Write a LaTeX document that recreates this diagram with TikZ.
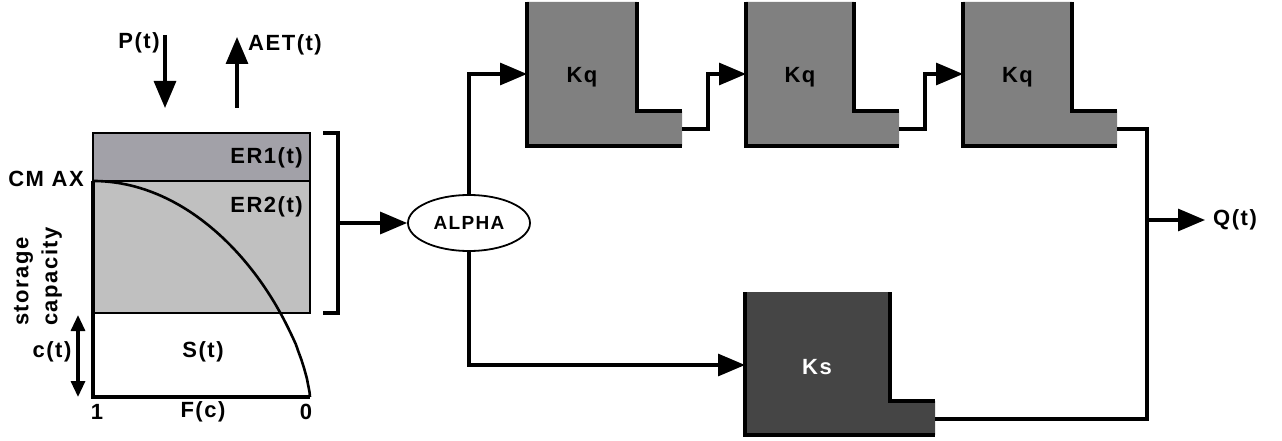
\documentclass[tikz,border=0pt]{standalone}
\usepackage{fontspec}
\setmainfont{Liberation Sans}[LetterSpace=7]
\usetikzlibrary{arrows.meta,shapes.geometric}

\definecolor{erone}{HTML}{A2A1A8}
\definecolor{ertwo}{HTML}{C0C0C0}
\definecolor{tankq}{HTML}{808080}
\definecolor{tanks}{HTML}{454545}

\begin{document}
\begin{tikzpicture}[x=1pt, y=-1pt,
  font=\bfseries\fontsize{22}{29}\selectfont,
  lbl/.style={inner sep=0pt},
  wall/.style={line width=4pt, line join=miter},
  line/.style={line width=3.2pt},
  flow/.style={line width=3.2pt, -{Triangle[length=27pt, width=22pt]}},
  small/.style={line width=3.2pt, {Triangle[length=16pt, width=14pt]}-{Triangle[length=16pt, width=14pt]}}
]
\useasboundingbox (0,0) rectangle (1282,441);

% soil store
\fill[erone] (93,133) rectangle (310,181);
\fill[ertwo] (93,181) rectangle (310,313);
\draw[line width=1.3pt] (93,133) rectangle (310,181) (93,181) rectangle (310,313);
\draw[line width=2.6pt] plot[domain=0:0.999, samples=80, variable=\u] ({93+217*\u},{397-216*(1-\u*\u)^(0.69)}) -- (310,397);
\draw[wall] (93,181) -- (93,397) -- (310,397);

\node[lbl, anchor=east] (cmax) at (84,179) {CM AX};
\node[lbl, anchor=east] (er1) at (303,158) {ER1(t)};
\node[lbl, anchor=east] (er2) at (303,207) {ER2(t)};
\node[lbl] (st) at (203,352) {S(t)};
\node[lbl] (ct) at (52,352) {c(t)};
\node[lbl] (one) at (97,412) {1};
\node[lbl] (fc) at (203,412) {F(c)};
\node[lbl] (zero) at (306,412) {0};
\node[lbl, anchor=west, rotate=90, align=left] (cap) at (38,326) {storage\\capacity};

% fluxes
\coordinate (ptop) at (165,35);
\coordinate (pbot) at (165,108);
\coordinate (aetbot) at (237,108);
\coordinate (aettop) at (237,37);
\node[lbl] (pt) at (139,43) {P(t)};
\node[lbl] (aet) at (285,45) {AET(t)};
\draw[flow] (ptop) -- (pbot);
\draw[flow] (aetbot) -- (aettop);
\coordinate (ctop) at (78,315);
\coordinate (cbot) at (78,397);
\draw[small] (ctop) -- (cbot);

% bracket and split
\draw[wall] (323,133) -- (338,133) -- (338,313) -- (323,313);
\coordinate (brk) at (338,223);
\node[draw, line width=1.8pt, ellipse, minimum width=122pt, minimum height=56pt, inner sep=0pt,
  font=\bfseries\fontsize{19}{22}\selectfont] (alpha) at (469,223) {ALPHA};
\draw[flow] (brk) -- (alpha);

% quick reservoirs
\foreach \n/\xl/\xr in {1/527/637, 2/746/854, 3/963/1072}{
  \fill[tankq] (\xl,2) rectangle (\xr,146) (\xr,111) rectangle ({\xr+45},146);
  \draw[wall] (\xl,2) -- (\xl,146) -- ({\xr+45},146);
  \draw[wall] (\xr,2) -- (\xr,111) -- ({\xr+45},111);
  \node[lbl] (kq\n) at ({(\xl+\xr)/2},77) {Kq};
  \coordinate (kqin\n) at (\xl,74);
  \coordinate (kqout\n) at ({\xr+45},129);
}

% slow reservoir
\fill[tanks] (745,292) rectangle (890,435) (890,401) rectangle (935,435);
\draw[wall] (745,292) -- (745,435) -- (935,435);
\draw[wall] (890,292) -- (890,401) -- (935,401);
\node[lbl, text=white] (ks) at (817,367) {Ks};
\coordinate (ksin) at (745,365);
\coordinate (ksout) at (935,419);

% routing
\coordinate (junc) at (1147,220);
\node[anchor=west, inner xsep=8pt, inner ysep=0pt] (qt) at (1205,220) {Q(t)};
\draw[flow] (alpha.north) |- (kqin1);
\draw[flow] (kqout1) -- ++(26,0) |- (kqin2);
\draw[flow] (kqout2) -- ++(26,0) |- (kqin3);
\draw[flow] (alpha.south) |- (ksin);
\draw[line] (kqout3) -| (junc);
\draw[line] (ksout) -| (junc);
\draw[flow] (junc) -- (qt);

\end{tikzpicture}
\end{document}
